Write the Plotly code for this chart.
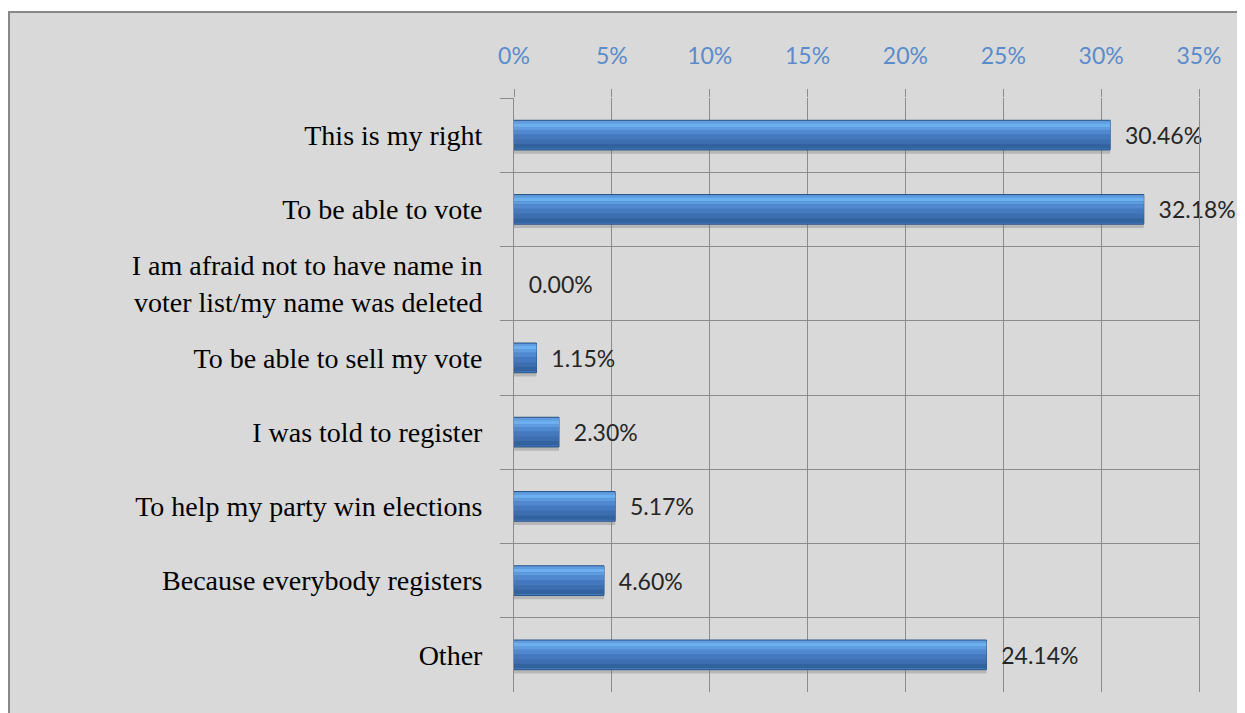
import plotly.graph_objects as go

# valores
motivos = [
    "This is my right",
    "To be able to vote",
    "I am afraid not to have name in<br>voter list/my name was deleted",
    "To be able to sell my vote",
    "I was told to register",
    "To help my party win elections",
    "Because everybody registers",
    "Other",
]
pct = [30.46, 32.18, 0.00, 1.15, 2.30, 5.17, 4.60, 24.14]
ticks_x = [0, 5, 10, 15, 20, 25, 30, 35]
ticks_txt = [f"{v}%" for v in ticks_x]

GRADE = "#8c8c8c"
FUNDO = "#d9d9d9"
SANS = "Lato, Open Sans, sans-serif"

# a página tem 8px de margem do <body>, por isso tudo está deslocado 8px
W, H = 1237, 705
ML, MT, PW, PH = 506, 90, 685, 594.5

# faixas do degradê da barra (de cima para baixo): offset, largura, cor
FAIXAS = [
    (-0.19, 0.03, "#5f9de0"),
    (-0.16, 0.05, "#6db0f0"),
    (-0.11, 0.04, "#5e9ce0"),
    (-0.07, 0.06, "#5089cf"),
    (-0.01, 0.07, "#4479bf"),
    (0.06, 0.06, "#3c6eb0"),
    (0.12, 0.06, "#33639f"),
]

fig = go.Figure()

# sombra leve abaixo da barra
fig.add_trace(go.Bar(x=pct, y=motivos, orientation="h", width=0.42, offset=-0.17,
                     marker=dict(color="rgba(120,120,120,0.35)", line_width=0),
                     hoverinfo="skip"))
# barra principal (com rótulo)
fig.add_trace(go.Bar(x=pct, y=motivos, orientation="h", width=0.4, offset=-0.2,
                     marker=dict(color="#4279bf",
                                 line=dict(color="#2b5688", width=[1 if v > 0 else 0 for v in pct])),
                     text=[f"\u00a0\u00a0{v:.2f}%" for v in pct], textposition="outside",
                     cliponaxis=False,
                     textfont=dict(family=SANS, size=23, color="#262626")))
for off, lw, cor in FAIXAS:
    fig.add_trace(go.Bar(x=pct, y=motivos, orientation="h", width=lw, offset=off,
                         marker=dict(color=cor, line_width=0), hoverinfo="skip"))

fig.update_layout(
    width=W, height=H,
    barmode="overlay", showlegend=False,
    paper_bgcolor="white", plot_bgcolor=FUNDO,
    margin=dict(l=ML, r=W - ML - PW, t=MT, b=H - MT - PH),
    shapes=[dict(type="rect", xref="paper", yref="paper", layer="below",
                 x0=-(ML - 1) / PW, x1=1.2, y0=-0.2, y1=1 + (MT - 4) / PH,
                 fillcolor=FUNDO, line=dict(color="#888888", width=2))],
)
fig.update_xaxes(
    side="top", range=[0, 35], tickvals=ticks_x, ticktext=ticks_txt,
    showgrid=True, gridcolor=GRADE, gridwidth=1, zeroline=False,
    ticks="outside", ticklen=8, tickcolor=GRADE,
    tickfont=dict(family=SANS, size=23, color="#5a8ccb"),
    ticklabelstandoff=16,
)
fig.update_yaxes(
    type="category", range=[7.5, -0.5], tickson="boundaries",
    showgrid=True, gridcolor=GRADE, gridwidth=1,
    ticks="outside", ticklen=13, tickcolor=GRADE,
    tickfont=dict(family="Liberation Serif, serif", size=28, color="black"),
    ticklabelstandoff=25,
    showline=True, linecolor=GRADE, mirror=True,
)

fig.write_html("out.html")
